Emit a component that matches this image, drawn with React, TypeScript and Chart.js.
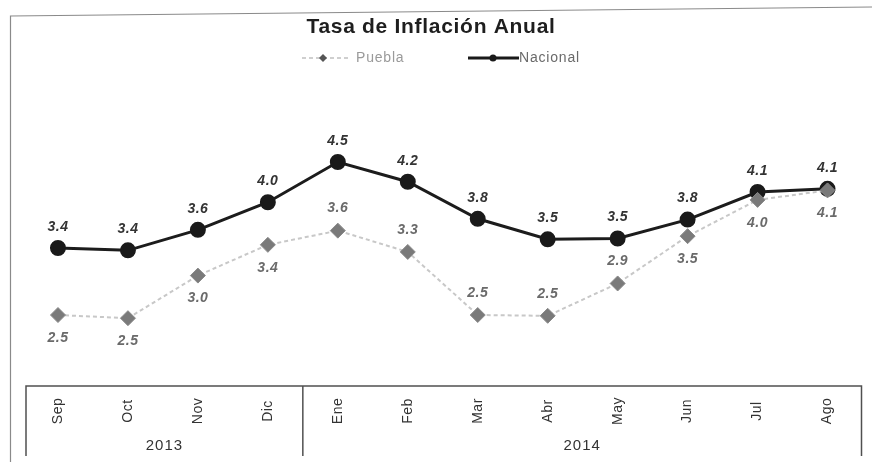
import React, { useEffect, useRef } from "react";
import { Chart, registerables } from "chart.js";

Chart.register(...registerables);

const months = ["Sep", "Oct", "Nov", "Dic", "Ene", "Feb", "Mar", "Abr", "May", "Jun", "Jul", "Ago"];
const years = ["2013", "2014"];
const yearSpans = [4, 8];
const puebla = [2.54, 2.5, 3.04, 3.43, 3.61, 3.34, 2.54, 2.53, 2.94, 3.54, 4.0, 4.12];
const nacional = [3.39, 3.36, 3.62, 3.97, 4.48, 4.23, 3.76, 3.5, 3.51, 3.75, 4.1, 4.14];
const pueblaLabelSide = ["below", "below", "below", "below", "above", "above", "above", "above", "above", "below", "below", "below"];
const titleText = "Tasa de Inflación Anual";

const FONT = "'Liberation Sans', Arial, sans-serif";

function setSpacing(ctx: any, v: string) {
  try {
    ctx.letterSpacing = v;
  } catch (e) {}
}

const decorPlugin = {
  id: "decor",
  beforeDraw(chart: any) {
    const ctx = chart.ctx;
    ctx.save();
    ctx.fillStyle = "#ffffff";
    ctx.fillRect(0, 0, chart.width, chart.height);
    ctx.strokeStyle = "#8a8a8a";
    ctx.lineWidth = 1.2;
    ctx.beginPath();
    ctx.moveTo(10.5, 462);
    ctx.lineTo(10.5, 16);
    ctx.lineTo(872, 7);
    ctx.stroke();
    ctx.restore();
  },
  afterDatasetsDraw(chart: any) {
    const ctx = chart.ctx;
    const xs = chart.scales.x;
    const ys = chart.scales.y;
    const area = chart.chartArea;
    ctx.save();
    // title
    ctx.fillStyle = "#1e1e1e";
    ctx.font = `bold 21px ${FONT}`;
    setSpacing(ctx, "0.7px");
    ctx.textAlign = "center";
    ctx.textBaseline = "middle";
    ctx.fillText(titleText, 431, 27);

    // legend
    ctx.font = `14px ${FONT}`;
    setSpacing(ctx, "0.8px");
    ctx.textAlign = "left";
    ctx.strokeStyle = "#cfcfcf";
    ctx.lineWidth = 2;
    ctx.setLineDash([4, 3]);
    ctx.beginPath();
    ctx.moveTo(302, 58);
    ctx.lineTo(348, 58);
    ctx.stroke();
    ctx.setLineDash([]);
    ctx.fillStyle = "#555";
    ctx.beginPath();
    ctx.moveTo(323, 54);
    ctx.lineTo(327, 58);
    ctx.lineTo(323, 62);
    ctx.lineTo(319, 58);
    ctx.closePath();
    ctx.fill();
    ctx.fillStyle = "#9a9a9a";
    ctx.fillText("Puebla", 356, 58);
    ctx.strokeStyle = "#1a1a1a";
    ctx.lineWidth = 3;
    ctx.beginPath();
    ctx.moveTo(468, 58);
    ctx.lineTo(519, 58);
    ctx.stroke();
    ctx.fillStyle = "#1a1a1a";
    ctx.beginPath();
    ctx.arc(493, 58, 3.5, 0, Math.PI * 2);
    ctx.fill();
    ctx.fillStyle = "#6a6a6a";
    ctx.fillText("Nacional", 519, 58);

    // data labels
    ctx.font = `italic bold 14px ${FONT}`;
    setSpacing(ctx, "0.5px");
    ctx.textAlign = "center";
    ctx.textBaseline = "middle";
    nacional.forEach((v, i) => {
      const x = xs.getPixelForValue(i);
      const y = ys.getPixelForValue(v);
      ctx.fillStyle = "#333";
      ctx.fillText(v.toFixed(1), x, y - 21);
    });
    puebla.forEach((v, i) => {
      const x = xs.getPixelForValue(i);
      const y = ys.getPixelForValue(v);
      ctx.fillStyle = "#6a6a6a";
      const dy = pueblaLabelSide[i] === "above" ? -22 : 23;
      ctx.fillText(v.toFixed(1), x, y + dy);
    });

    // category box
    const left = area.left + 3;
    const right = area.right - 1;
    const top = area.bottom;
    const bottom = 456;
    ctx.strokeStyle = "#505050";
    ctx.lineWidth = 1.5;
    ctx.beginPath();
    ctx.moveTo(left, bottom);
    ctx.lineTo(left, top);
    ctx.lineTo(right, top);
    ctx.lineTo(right, bottom);
    ctx.stroke();

    // month labels
    ctx.fillStyle = "#333";
    ctx.font = `14px ${FONT}`;
    setSpacing(ctx, "0.5px");
    months.forEach((m, i) => {
      const x = xs.getPixelForValue(i);
      ctx.save();
      ctx.translate(x, top + 25);
      ctx.rotate(-Math.PI / 2);
      ctx.textAlign = "center";
      ctx.textBaseline = "middle";
      ctx.fillText(m, 0, 0);
      ctx.restore();
    });

    // year groups
    let start = 0;
    ctx.font = `15px ${FONT}`;
    setSpacing(ctx, "1px");
    years.forEach((yr, gi) => {
      const end = start + yearSpans[gi] - 1;
      const x0 = gi === 0 ? left : (xs.getPixelForValue(start - 1) + xs.getPixelForValue(start)) / 2;
      const x1 = gi === years.length - 1 ? right : (xs.getPixelForValue(end) + xs.getPixelForValue(end + 1)) / 2;
      if (gi > 0) {
        ctx.strokeStyle = "#505050";
        ctx.lineWidth = 1.5;
        ctx.beginPath();
        ctx.moveTo(x0, top);
        ctx.lineTo(x0, bottom);
        ctx.stroke();
      }
      ctx.fillStyle = "#333";
      ctx.textAlign = "center";
      ctx.textBaseline = "middle";
      ctx.fillText(yr, (x0 + x1) / 2, 446);
      start = end + 1;
    });
    ctx.restore();
  },
};

export default function App() {
  const ref = useRef<HTMLCanvasElement | null>(null);
  useEffect(() => {
    if (!ref.current) return;
    const chart = new Chart(ref.current, {
      type: "line",
      data: {
        labels: months,
        datasets: [
          {
            label: "Puebla",
            data: puebla,
            borderColor: "#c8c8c8",
            borderWidth: 2,
            borderDash: [4, 3],
            pointStyle: "rectRot",
            pointRadius: 7.5,
            pointBackgroundColor: "#7a7a7a",
            pointBorderColor: "#8a8a8a",
            pointBorderWidth: 1,
            tension: 0,
          },
          {
            label: "Nacional",
            data: nacional,
            borderColor: "#1c1c1c",
            borderWidth: 3,
            pointStyle: "circle",
            pointRadius: 6.5,
            pointBackgroundColor: "#1a1a1a",
            pointBorderColor: "#1a1a1a",
            tension: 0,
          },
        ],
      },
      options: {
        responsive: false,
        animation: false,
        layout: { padding: { left: 23, right: 9, top: 80, bottom: 86 } },
        plugins: {
          legend: { display: false },
          title: { display: false },
          tooltip: { enabled: false },
        },
        scales: {
          x: { display: false, offset: true },
          y: { display: false, min: 1.64, max: 5.52 },
        },
      },
      plugins: [decorPlugin],
    });
    return () => chart.destroy();
  }, []);
  return (
    <div style={{ position: "fixed", left: 0, top: 0, width: 872, height: 472, background: "#fff" }}>
      <canvas ref={ref} width={872} height={472} style={{ display: "block", width: 872, height: 472 }} />
    </div>
  );
}
